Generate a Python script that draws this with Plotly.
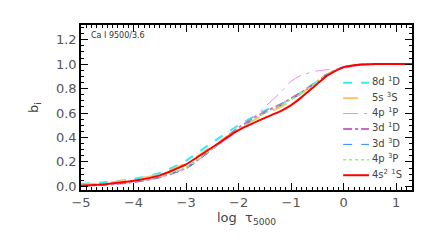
import plotly.graph_objects as go

log_tau = [-5.0, -4.5, -4.0, -3.5, -3.0, -2.5, -2.0, -1.5, -1.2, -1.0, -0.8, -0.5, -0.3, 0.0, 0.3, 0.6, 1.0, 1.3]

b_8d1D = [0.020, 0.035, 0.060, 0.110, 0.210, 0.360, 0.500, 0.620, 0.670, 0.720, 0.770, 0.860, 0.920, 0.975, 0.995, 1.0, 1.0, 1.0]
b_5s3S = [0.012, 0.030, 0.055, 0.100, 0.190, 0.330, 0.470, 0.590, 0.650, 0.700, 0.760, 0.860, 0.920, 0.975, 0.995, 1.0, 1.0, 1.0]
b_4p1P = [0.005, 0.015, 0.035, 0.075, 0.150, 0.300, 0.460, 0.650, 0.770, 0.860, 0.910, 0.945, 0.955, 0.965, 0.990, 1.0, 1.0, 1.0]
b_3d1D = [0.005, 0.015, 0.035, 0.075, 0.150, 0.310, 0.480, 0.610, 0.670, 0.720, 0.770, 0.860, 0.920, 0.975, 0.995, 1.0, 1.0, 1.0]
b_3d3D = [0.005, 0.015, 0.035, 0.075, 0.145, 0.300, 0.470, 0.600, 0.660, 0.710, 0.760, 0.860, 0.920, 0.975, 0.995, 1.0, 1.0, 1.0]
b_4p3P = [0.008, 0.018, 0.040, 0.080, 0.155, 0.310, 0.470, 0.600, 0.660, 0.710, 0.760, 0.860, 0.920, 0.975, 0.995, 1.0, 1.0, 1.0]
b_4s21S = [0.005, 0.020, 0.045, 0.090, 0.180, 0.320, 0.460, 0.560, 0.615, 0.665, 0.730, 0.840, 0.910, 0.975, 0.995, 1.0, 1.0, 1.0]

names = ["8d <sup>1</sup>D", "5s <sup>3</sup>S", "4p <sup>1</sup>P", "3d <sup>1</sup>D",
         "3d <sup>3</sup>D", "4p <sup>3</sup>P", "4s<sup>2</sup> <sup>1</sup>S"]
series = [b_8d1D, b_5s3S, b_4p1P, b_3d1D, b_3d3D, b_4p3P, b_4s21S]
colors = ["#33eeee", "#ffc070", "#ee88ee", "#cc66cc", "#3388ff", "#99ee66", "#ff0000"]
dashes = ["dash", "longdash", "longdashdot", "dashdot", "dash", "dot", "solid"]
widths = [2.0, 2.0, 1.0, 2.0, 1.0, 1.5, 2.0]

fig = go.Figure()
for n, y, c, d, w in zip(names, series, colors, dashes, widths):
    fig.add_trace(go.Scatter(x=log_tau, y=y, mode="lines", name=n, showlegend=False,
                             line=dict(color=c, dash=d, width=w, shape="spline", smoothing=0.6)))

# legend drawn as keys + labels (compact, IDL-style spacing)
shapes = []
annotations = []
for i, (n, c, d, w) in enumerate(zip(names, colors, dashes, widths)):
    yy = 0.65 - i * 0.0934
    shapes.append(dict(type="line", xref="paper", yref="paper", x0=0.792, x1=0.870, y0=yy, y1=yy,
                       line=dict(color=c, dash=d, width=w)))
    annotations.append(dict(text=n, xref="paper", yref="paper", x=0.872, y=yy + 0.01,
                            xanchor="left", yanchor="middle", showarrow=False,
                            font=dict(family="DejaVu Sans", size=10, color="#444444")))

annotations.append(dict(text="Ca I 9500/3.6", xref="paper", yref="paper", x=0.025, y=0.975,
                        xanchor="left", yanchor="top", showarrow=False,
                        font=dict(family="DejaVu Sans", size=8, color="#333333")))

axis_common = dict(showgrid=False, zeroline=False, showline=True, linecolor="black",
                   linewidth=1.5, mirror="ticks", ticks="inside", ticklen=7,
                   tickcolor="black", tickwidth=1, automargin=False,
                   tickfont=dict(family="DejaVu Sans", size=13, color="#555555"))

fig.update_layout(
    width=436, height=242,
    margin=dict(l=73, r=32, t=17, b=60),
    paper_bgcolor="white", plot_bgcolor="white",
    showlegend=False,
    xaxis=dict(range=[-5, 1.3], dtick=1, tick0=-5,
               minor=dict(dtick=0.1, ticks="inside", ticklen=3, tickcolor="black"),
               title=dict(text="log  τ<sub>5000</sub>", font=dict(family="DejaVu Sans", size=13, color="#444444"), standoff=4),
               **axis_common),
    yaxis=dict(range=[-0.03, 1.32], dtick=0.2, tick0=0, tickformat=".1f",
               minor=dict(dtick=0.05, ticks="inside", ticklen=3, tickcolor="black"),
               title=dict(text="b<sub>i</sub>", font=dict(family="DejaVu Sans", size=13, color="#444444"), standoff=14),
               **axis_common),
    shapes=shapes,
    annotations=annotations,
)

fig.write_html("out.html")
